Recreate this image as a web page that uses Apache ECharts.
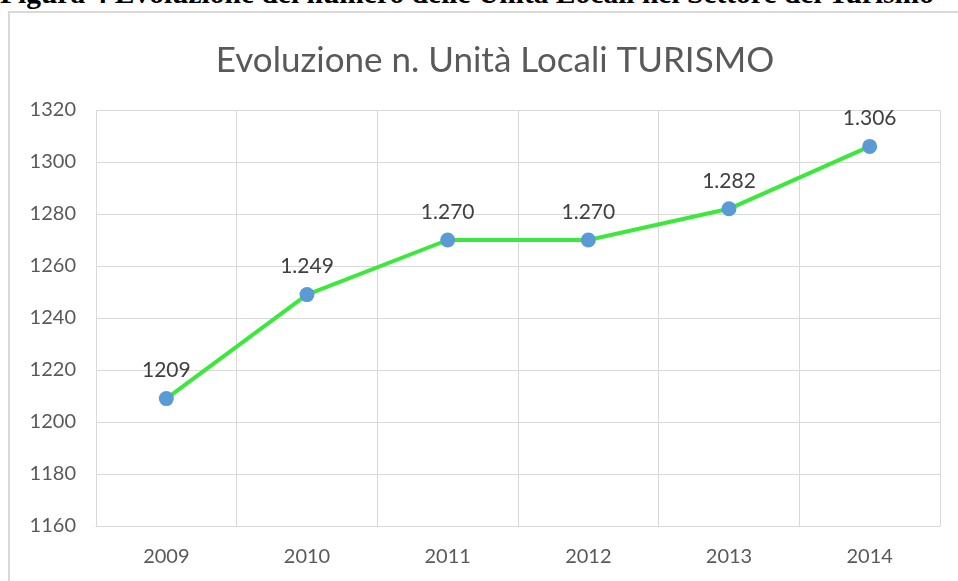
<!DOCTYPE html>
<html>
<head>
<meta charset="utf-8">
<script src="https://cdn.jsdelivr.net/npm/echarts@6/dist/echarts.min.js"></script>
<style>
  html, body { margin: 0; padding: 0; background: #fff; overflow: hidden; }
  .caption {
    position: absolute; left: 0; top: -23px; width: 1000px;
    font: bold 29.5px "Liberation Serif", "DejaVu Serif", serif;
    color: #000; white-space: nowrap; text-align: left;
  }
  .frame {
    position: absolute; left: 8px; top: 11px; width: 1000px; height: 600px;
    border: 2px solid #d9d9d9; box-sizing: border-box;
  }
  #chart { position: absolute; left: 0; top: 0; width: 958px; height: 581px; }
</style>
</head>
<body>
<div class="caption">Figura 4 Evoluzione del numero delle Unità Locali nel Settore del Turismo</div>
<div class="frame"></div>
<div id="chart"></div>
<script>
const years = ['2009', '2010', '2011', '2012', '2013', '2014']
const unita = [1209, 1249, 1270, 1270, 1282, 1306]
const pointLabels = ['1209', '1.249', '1.270', '1.270', '1.282', '1.306']

const axisColor = '#595959'
const gridColor = '#d9d9d9'

const chart = echarts.init(document.getElementById('chart'))

chart.setOption({
  animation: false,
  title: {
    text: 'Evoluzione n. Unità Locali TURISMO',
    left: 490,
    textAlign: 'center',
    top: 38,
    textStyle: {
      fontFamily: 'Lato, "Open Sans", sans-serif',
      fontSize: 35,
      fontWeight: 'normal',
      color: axisColor,
    },
  },
  grid: {
    left: 96,
    right: 18,
    top: 110,
    bottom: 55,
  },
  xAxis: {
    type: 'category',
    data: years,
    boundaryGap: true,
    axisLine: { lineStyle: { color: gridColor, width: 1 } },
    axisTick: { show: false },
    splitLine: { show: true, interval: 0, lineStyle: { color: gridColor } },
    axisLabel: {
      color: axisColor,
      fontSize: 20,
      fontFamily: 'Lato, sans-serif',
      margin: 21,
    },
  },
  yAxis: {
    type: 'value',
    min: 1160,
    max: 1320,
    interval: 20,
    axisLine: { show: false },
    axisTick: { show: false },
    splitLine: { lineStyle: { color: gridColor } },
    axisLabel: {
      color: axisColor,
      fontSize: 20,
      fontFamily: 'Lato, sans-serif',
      margin: 20,
      formatter: (v) => String(v),
    },
  },
  series: [
    {
      type: 'line',
      data: unita,
      symbol: 'circle',
      symbolSize: 15,
      lineStyle: { color: '#3de83d', width: 4 },
      itemStyle: { color: '#5b9bd5' },
      label: {
        show: true,
        position: 'top',
        distance: 10,
        color: '#404040',
        fontSize: 21,
        fontFamily: 'Lato, sans-serif',
        formatter: (p) => pointLabels[p.dataIndex],
      },
    },
  ],
})
</script>
</body>
</html>
